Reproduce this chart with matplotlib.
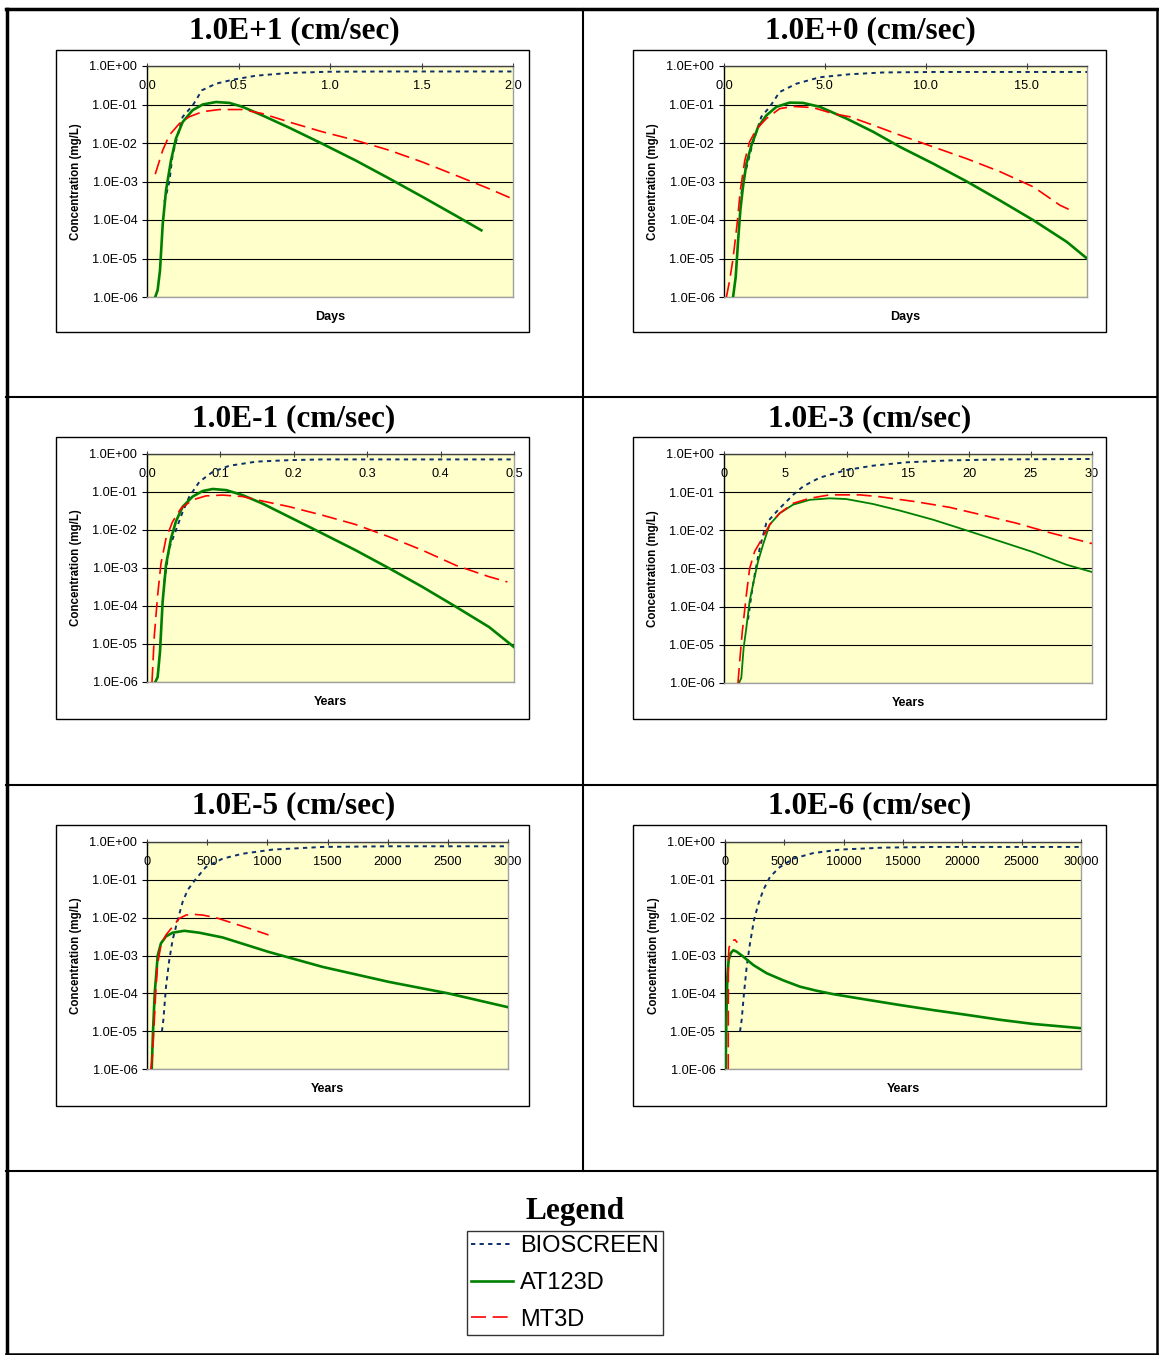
import numpy as np
import matplotlib
matplotlib.use('Agg')
import matplotlib.pyplot as plt
from matplotlib.patches import Rectangle
from matplotlib.lines import Line2D
from matplotlib.ticker import FixedLocator, FuncFormatter, NullLocator

plt.rcParams['font.family'] = ['Liberation Sans', 'DejaVu Sans']

# ---- values (x, concentration in mg/L) ----
# 1.0E+1 cm/sec  (days)
p1_bio_x = [0.095, 0.122, 0.14, 0.195, 0.25, 0.30, 0.377, 0.468, 0.595, 0.777, 0.995, 1.32, 2.0]
p1_bio_y = [2.95e-4, 9.8e-4, 5.0e-3, 4.8e-2, 9.5e-2, 0.234, 0.347, 0.44, 0.56, 0.66, 0.71, 0.72, 0.72]
p1_at_x = [0.045, 0.058, 0.071, 0.086, 0.104, 0.131, 0.158, 0.195, 0.249, 0.304, 0.377, 0.45, 0.522,
           0.631, 0.777, 0.959, 1.141, 1.323, 1.505, 1.687, 1.827]
p1_at_y = [1.0e-6, 1.5e-6, 4.9e-6, 7.9e-5, 5.9e-4, 3.5e-3, 1.3e-2, 3.5e-2, 7.1e-2, 0.100, 0.116, 0.110, 8.7e-2,
           5.2e-2, 2.5e-2, 9.5e-3, 3.5e-3, 1.2e-3, 4.0e-4, 1.3e-4, 5.4e-5]
p1_mt_x = [0.045, 0.086, 0.122, 0.177, 0.231, 0.304, 0.395, 0.522, 0.631, 0.777, 0.959, 1.141, 1.323,
           1.505, 1.687, 1.869, 2.0]
p1_mt_y = [1.55e-3, 6.5e-3, 1.6e-2, 3.2e-2, 4.8e-2, 6.5e-2, 7.4e-2, 7.4e-2, 5.8e-2, 3.5e-2, 1.95e-2, 1.17e-2,
           6.5e-3, 3.2e-3, 1.45e-3, 6.5e-4, 3.5e-4]

# 1.0E+0 cm/sec  (days)
p2_bio_x = [0.86, 1.0, 1.4, 1.85, 2.27, 2.76, 3.59, 4.75, 6.24, 7.9, 10.4, 18.0]
p2_bio_y = [4.8e-4, 1.3e-3, 9.0e-3, 4.8e-2, 8.7e-2, 0.211, 0.347, 0.51, 0.61, 0.68, 0.70, 0.70]
p2_at_x = [0.45, 0.58, 0.70, 0.81, 0.94, 1.11, 1.36, 1.69, 2.10, 2.60, 3.26, 3.92, 4.75, 6.08, 7.40,
           8.73, 10.38, 12.04, 13.69, 15.35, 17.0, 18.0]
p2_at_y = [1.0e-6, 3.3e-6, 2.95e-5, 1.8e-4, 7.2e-4, 2.9e-3, 8.7e-3, 2.6e-2, 5.2e-2, 8.7e-2, 0.112, 0.110,
           8.7e-2, 4.3e-2, 1.95e-2, 7.9e-3, 2.9e-3, 1.0e-3, 3.2e-4, 9.8e-5, 2.7e-5, 1.0e-5]
p2_mt_x = [0.12, 0.28, 0.45, 0.65, 0.81, 1.03, 1.27, 1.61, 2.10, 2.76, 3.43, 4.42, 5.41, 6.24, 7.40,
           8.73, 10.38, 12.04, 13.69, 15.35, 16.67, 17.09]
p2_mt_y = [1.0e-6, 2.7e-6, 1.0e-5, 7.9e-5, 5.9e-4, 3.5e-3, 1.07e-2, 2.3e-2, 4.3e-2, 7.8e-2, 8.9e-2, 8.3e-2,
           5.8e-2, 4.8e-2, 2.9e-2, 1.6e-2, 7.9e-3, 3.9e-3, 1.8e-3, 7.2e-4, 2.4e-4, 1.9e-4]

# 1.0E-1 cm/sec  (years)
p3_bio_x = [0.0236, 0.03, 0.0486, 0.0577, 0.0714, 0.0895, 0.112, 0.149, 0.194, 0.24, 0.5]
p3_bio_y = [4.3e-4, 3.2e-3, 3.0e-2, 7.6e-2, 0.186, 0.339, 0.49, 0.63, 0.69, 0.72, 0.72]
p3_at_x = [0.0113, 0.0145, 0.0177, 0.0213, 0.0259, 0.0327, 0.0395, 0.0486, 0.0622, 0.0758, 0.0895, 0.108,
           0.130, 0.157, 0.194, 0.239, 0.284, 0.330, 0.375, 0.421, 0.466, 0.5]
p3_at_y = [1.0e-6, 1.35e-6, 6.2e-6, 1.3e-4, 1.2e-3, 6.0e-3, 1.7e-2, 4.1e-2, 7.6e-2, 0.106, 0.120, 0.112,
           8.3e-2, 5.0e-2, 2.2e-2, 8.1e-3, 2.95e-3, 9.8e-4, 3.2e-4, 9.5e-5, 2.8e-5, 8.3e-6]
p3_mt_x = [0.0068, 0.010, 0.0145, 0.019, 0.0259, 0.0349, 0.0463, 0.0622, 0.0803, 0.103, 0.130, 0.157,
           0.194, 0.239, 0.284, 0.33, 0.375, 0.421, 0.466, 0.491]
p3_mt_y = [1.0e-6, 1.7e-5, 1.9e-4, 1.3e-3, 6.0e-3, 1.66e-2, 3.7e-2, 6.2e-2, 7.9e-2, 8.3e-2, 7.6e-2, 5.8e-2,
           4.1e-2, 2.45e-2, 1.4e-2, 6.6e-3, 2.95e-3, 1.17e-3, 5.9e-4, 4.3e-4]

# 1.0E-3 cm/sec  (years)
p4_bio_x = [1.96, 2.23, 2.5, 2.91, 3.45, 4.54, 4.95, 5.63, 6.44, 7.8, 9.97, 12.15, 14.86, 18.4, 22.5, 30]
p4_bio_y = [4.6e-5, 2.0e-4, 6.8e-4, 3.4e-3, 1.55e-2, 3.8e-2, 5.1e-2, 8.5e-2, 0.141, 0.24, 0.38, 0.495,
            0.605, 0.68, 0.72, 0.74]
p4_at_x = [1.22, 1.41, 1.60, 1.82, 2.09, 2.42, 2.77, 3.18, 3.72, 4.54, 5.63, 6.98, 8.61, 9.97, 12.15,
           14.32, 17.04, 19.76, 22.47, 25.19, 27.91, 30]
p4_at_y = [1.0e-6, 1.35e-6, 8.3e-6, 2.75e-5, 1.4e-4, 4.6e-4, 1.5e-3, 4.2e-3, 1.4e-2, 2.8e-2, 4.7e-2, 6.3e-2,
           6.9e-2, 6.6e-2, 4.9e-2, 3.3e-2, 1.9e-2, 1.0e-2, 5.2e-3, 2.7e-3, 1.26e-3, 8.1e-4]
p4_mt_x = [1.14, 1.28, 1.49, 1.82, 2.09, 2.5, 3.04, 3.72, 4.54, 5.63, 6.98, 8.61, 11.06, 12.69, 15.68,
           18.4, 21.1, 23.8, 26.55, 30]
p4_mt_y = [1.0e-6, 3.7e-6, 2.2e-5, 2.0e-4, 1.0e-3, 2.8e-3, 5.6e-3, 1.4e-2, 2.8e-2, 5.1e-2, 6.9e-2, 8.5e-2,
           8.5e-2, 7.6e-2, 5.6e-2, 4.0e-2, 2.5e-2, 1.55e-2, 8.7e-3, 4.5e-3]

# 1.0E-5 cm/sec  (years)
p5_bio_x = [124, 136, 158, 185, 213, 255, 296, 338, 407, 490, 628, 794, 1044, 1459, 2012, 3000]
p5_bio_y = [9.8e-6, 2.0e-5, 1.5e-4, 7.6e-4, 2.6e-3, 8.7e-3, 2.6e-2, 5.4e-2, 0.107, 0.219, 0.363, 0.49,
            0.63, 0.74, 0.77, 0.77]
p5_at_x = [39, 50, 64, 89, 116, 158, 213, 310, 435, 628, 1005, 1459, 2012, 2502, 3000]
p5_at_y = [1.0e-6, 9.8e-6, 1.0e-4, 1.0e-3, 2.1e-3, 3.2e-3, 4.0e-3, 4.5e-3, 4.0e-3, 3.0e-3, 1.26e-3,
           5.0e-4, 2.0e-4, 1.0e-4, 4.3e-5]
p5_mt_x = [33, 47, 61, 75, 89, 116, 158, 213, 268, 324, 380, 463, 573, 711, 850, 1010]
p5_mt_y = [1.0e-6, 2.6e-6, 2.0e-5, 1.5e-4, 6.2e-4, 1.9e-3, 3.5e-3, 5.8e-3, 9.5e-3, 1.17e-2, 1.23e-2,
           1.17e-2, 1.0e-2, 7.2e-3, 5.2e-3, 3.5e-3]

# 1.0E-6 cm/sec  (years)
p6_bio_x = [1264, 1404, 1600, 1826, 2107, 2444, 2809, 3230, 3792, 4635, 5758, 7444, 9690, 13340, 17550, 30000]
p6_bio_y = [9.8e-6, 2.0e-5, 1.0e-4, 5.0e-4, 2.1e-3, 8.7e-3, 2.3e-2, 5.4e-2, 0.12, 0.219, 0.363, 0.51,
            0.63, 0.71, 0.74, 0.74]
p6_at_x = [56, 112, 197, 309, 478, 702, 983, 1545, 2388, 3511, 4916, 6320, 7725, 9129, 11938, 14747,
           17556, 20365, 23174, 25983, 30000]
p6_at_y = [1.0e-6, 2.0e-5, 2.75e-4, 7.6e-4, 1.15e-3, 1.38e-3, 1.26e-3, 9.3e-4, 5.6e-4, 3.4e-4, 2.2e-4,
           1.5e-4, 1.17e-4, 9.5e-5, 6.8e-5, 4.9e-5, 3.6e-5, 2.7e-5, 2.0e-5, 1.55e-5, 1.2e-5]
p6_mt_x = [270, 276, 281, 290, 337, 478, 646, 843, 1039]
p6_mt_y = [1.0e-6, 2.0e-5, 4.0e-4, 8.9e-4, 1.6e-3, 2.2e-3, 2.5e-3, 2.6e-3, 2.2e-3]

titles = ['1.0E+1 (cm/sec)', '1.0E+0 (cm/sec)', '1.0E-1 (cm/sec)',
          '1.0E-3 (cm/sec)', '1.0E-5 (cm/sec)', '1.0E-6 (cm/sec)']
xlabels = ['Days', 'Days', 'Years', 'Years', 'Years', 'Years']
xlims = [(0, 2.0), (0, 18.0), (0, 0.5), (0, 30), (0, 3000), (0, 30000)]
xticks = [[0, 0.5, 1.0, 1.5, 2.0], [0, 5, 10, 15], [0, 0.1, 0.2, 0.3, 0.4, 0.5],
          [0, 5, 10, 15, 20, 25, 30], [0, 500, 1000, 1500, 2000, 2500, 3000],
          [0, 5000, 10000, 15000, 20000, 25000, 30000]]
xfmts = ['%.1f', '%.1f', '%.1f', '%d', '%d', '%d']
yticks = [1e-6, 1e-5, 1e-4, 1e-3, 1e-2, 1e-1, 1e0]
series_names = ['BIOSCREEN', 'AT123D', 'MT3D']

bio = [(p1_bio_x, p1_bio_y), (p2_bio_x, p2_bio_y), (p3_bio_x, p3_bio_y),
       (p4_bio_x, p4_bio_y), (p5_bio_x, p5_bio_y), (p6_bio_x, p6_bio_y)]
at123 = [(p1_at_x, p1_at_y), (p2_at_x, p2_at_y), (p3_at_x, p3_at_y),
         (p4_at_x, p4_at_y), (p5_at_x, p5_at_y), (p6_at_x, p6_at_y)]
mt3d = [(p1_mt_x, p1_mt_y), (p2_mt_x, p2_mt_y), (p3_mt_x, p3_mt_y),
        (p4_mt_x, p4_mt_y), (p5_mt_x, p5_mt_y), (p6_mt_x, p6_mt_y)]

# ---- layout in pixels ----
W, H = 1159, 1355
fig = plt.figure(figsize=(W / 100, H / 100), dpi=100)
fig.patch.set_facecolor('white')

def fbox(x0, y0, x1, y1):
    return [x0 / W, 1 - y1 / H, (x1 - x0) / W, (y1 - y0) / H]

def hline(x0, x1, y, lw):
    fig.add_artist(Line2D([x0 / W, x1 / W], [1 - y / H, 1 - y / H], color='black', lw=lw,
                          solid_capstyle='projecting'))

def vline(x, y0, y1, lw):
    fig.add_artist(Line2D([x / W, x / W], [1 - y0 / H, 1 - y1 / H], color='black', lw=lw,
                          solid_capstyle='projecting'))

# table grid
hline(6, 1157, 9, 2.5)
hline(6, 1157, 1354, 1.8)
vline(7, 9, 1354, 2.5)
vline(1157, 9, 1354, 1.8)
for yy in [397, 785, 1171]:
    hline(6, 1157, yy, 1.5)
vline(583, 9, 1171, 1.5)

# plot area (x0, y0, x1, y1) and chart frame per panel
plot_boxes = [(147, 66, 513, 297), (724, 66, 1087, 297),
              (147, 454, 514, 682), (724, 454, 1092, 683),
              (147, 842, 508, 1069), (725, 842, 1081, 1069)]
frame_boxes = [(56, 50, 529, 332), (633, 50, 1106, 332),
               (56, 437, 529, 719), (633, 437, 1106, 719),
               (56, 825, 529, 1106), (633, 825, 1106, 1106)]
title_pos = [(294, 31), (870, 31), (294, 419), (870, 419), (294, 806), (870, 806)]
green_lw = [1.9, 1.9, 1.9, 1.3, 1.9, 1.9]

axes = []
for i in range(6):
    fx0, fy0, fx1, fy1 = frame_boxes[i]
    fig.add_artist(Rectangle((fx0 / W, 1 - fy1 / H), (fx1 - fx0) / W, (fy1 - fy0) / H,
                             transform=fig.transFigure, facecolor='white', edgecolor='black',
                             lw=1.0, zorder=0))
    fig.text(title_pos[i][0] / W, 1 - title_pos[i][1] / H, titles[i], ha='center', va='center',
             family='Liberation Serif', weight='bold', size=22.5)

    ax = fig.add_axes(fbox(*plot_boxes[i]))
    ax.set_facecolor('#FFFFCC')
    ax.set_yscale('log')
    ax.set_ylim(1e-6, 1)
    ax.set_xlim(*xlims[i])

    ax.plot(bio[i][0], bio[i][1], color='#0B2F6B', lw=1.4, ls=(0, (2.2, 2.2)), zorder=3)
    ax.plot(at123[i][0], at123[i][1], color='#008000', lw=green_lw[i], zorder=4)
    ax.plot(mt3d[i][0], mt3d[i][1], color='#FF0000', lw=1.2, ls=(0, (9, 4)), zorder=5)

    ax.yaxis.set_major_locator(FixedLocator(yticks))
    ax.yaxis.set_minor_locator(NullLocator())
    ax.yaxis.set_major_formatter(FuncFormatter(lambda v, p: '1.0E%+03d' % round(np.log10(v))))
    ax.yaxis.grid(True, color='black', lw=0.8)
    ax.set_axisbelow(True)
    ax.tick_params(axis='y', direction='out', length=3.5, width=0.8, pad=3.5, labelsize=9.2)

    ax.xaxis.set_ticks_position('top')
    ax.set_xticks(xticks[i])
    ax.set_xticklabels([xfmts[i] % t for t in xticks[i]])
    ax.tick_params(axis='x', direction='inout', length=5, width=0.8, color='#404040',
                   pad=-21, labelsize=9.2)
    ax.xaxis.set_label_position('bottom')
    ax.set_xlabel(xlabels[i], fontsize=9, fontweight='bold', labelpad=10)
    ax.set_ylabel('Concentration (mg/L)', fontsize=8.3, fontweight='bold', labelpad=5)

    ax.spines['left'].set_color('black')
    ax.spines['top'].set_color('#404040')
    ax.spines['right'].set_color('#A0A0A0')
    ax.spines['bottom'].set_color('#A0A0A0')
    for s in ax.spines.values():
        s.set_linewidth(1.0)
    axes.append(ax)

# legend
fig.text(575 / W, 1 - 1211 / H, 'Legend', ha='center', va='center',
         family='Liberation Serif', weight='bold', size=22.5)
leg = fig.legend(axes[0].get_lines(), series_names, loc='center',
                 bbox_to_anchor=(565 / W, 1 - 1283 / H), frameon=True, fancybox=False,
                 edgecolor='black', fontsize=17, handlelength=1.75, handletextpad=0.3,
                 borderpad=0.2, labelspacing=0.62, borderaxespad=0)
leg.get_frame().set_linewidth(1.0)

fig.savefig('out.png', dpi=100)
